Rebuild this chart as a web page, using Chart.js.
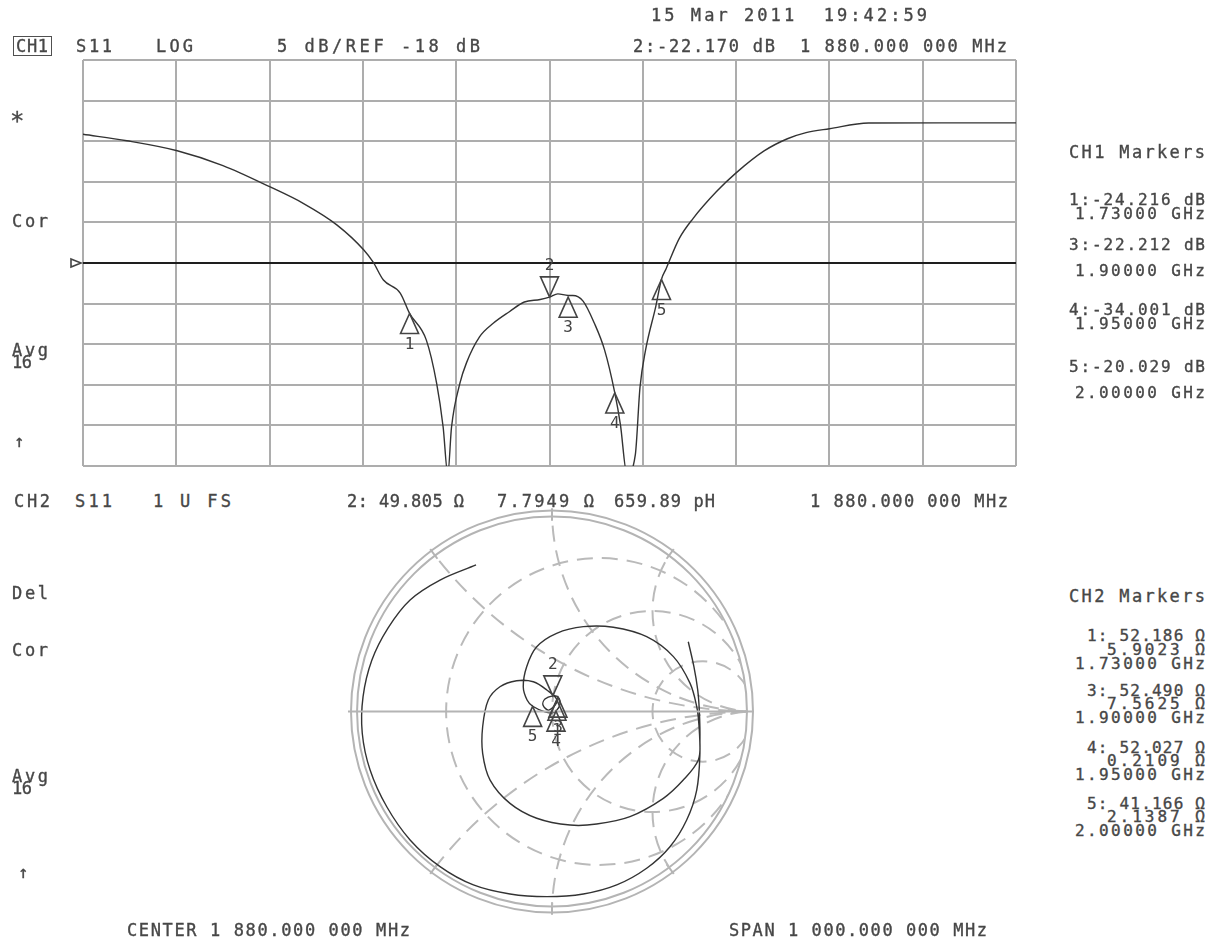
<!DOCTYPE html>
<html>
<head>
<meta charset="utf-8">
<script src="https://cdn.jsdelivr.net/npm/chart.js@4.4.1/dist/chart.umd.min.js"></script>
<style>
  html, body { margin: 0; padding: 0; background: #fff; }
  #page { position: relative; width: 1218px; height: 943px; overflow: hidden; background: #fff; }
  canvas { position: absolute; }
  .t { position: absolute; font-family: "DejaVu Sans Mono", monospace; font-size: 17px; line-height: 1;
       color: #474747; white-space: pre; transform: translateY(-50%); -webkit-text-stroke: 0.35px #474747; }
  .box { border: 1.5px solid #505050; padding: 1px 2px 0 2px; }
  .big { font-size: 24px; }
  .sm { font-size: 16px; }
</style>
</head>
<body>
<div id="page">
  <canvas id="magChart" width="1218" height="480" style="left:0;top:0"></canvas>
  <canvas id="smithChart" width="500" height="440" style="left:300px;top:490px"></canvas>
</div>
<script>
// CH1: S11 log magnitude
const freqMHz = [1380, 1427, 1481, 1530, 1580, 1616, 1652, 1681, 1691, 1702, 1720, 1730, 1748, 1759, 1766,
                 1771, 1775, 1784, 1791, 1805, 1820, 1837, 1853, 1870, 1880, 1889, 1900, 1905, 1916, 1928,
                 1939, 1950, 1956, 1963, 1972, 1977, 1983, 1994, 2000, 2005, 2019, 2034, 2059, 2080, 2110,
                 2135, 2155, 2180, 2222, 2300, 2380];
const s11dB = [-2.15, -2.94, -4.17, -6.0, -8.6, -10.65, -13.3, -16.4, -17.9, -20.1, -21.7, -24.2, -27.5, -32.8, -38.2,
               -44, -38.2, -32.8, -30.3, -27.1, -25.4, -24.0, -22.8, -22.5, -22.2, -21.8, -22.0, -22.0, -22.7, -25.4,
               -28.7, -34.0, -37.9, -44, -41.6, -33.3, -28.7, -23.3, -20.0, -18.7, -15.0, -12.5, -9.2, -6.9, -4.2,
               -2.7, -1.95, -1.46, -0.76, -0.74, -0.74];
const refDB = -18;

// CH2: S11 on the Smith chart (reflection coefficient, real / imaginary)
const smithRe = [-0.378, -0.557, -0.706, -0.816, -0.896, -0.940, -0.944, -0.905, -0.822, -0.706, -0.557, -0.391,
                 -0.209, -0.026, 0.156, 0.322, 0.471, 0.587, 0.670, 0.720, 0.736, 0.731, 0.720,
                 0.687, 0.604, 0.471, 0.305, 0.156, 0.023, -0.076, -0.126, -0.143, -0.124, -0.096, -0.035,
                 0.000, 0.020, 0.040, 0.030, 0.004, -0.035, -0.045, -0.015, 0.025,
                 -0.026, -0.093, -0.176, -0.259, -0.317, -0.345, -0.345, -0.308, -0.209, -0.076, 0.090,
                 0.222, 0.388, 0.554, 0.653, 0.728, 0.736, 0.733, 0.725, 0.706, 0.678];
const smithIm = [0.729, 0.654, 0.555, 0.415, 0.256, 0.074, -0.108, -0.291, -0.474, -0.639, -0.772, -0.863,
                 -0.908, -0.921, -0.908, -0.863, -0.780, -0.673, -0.540, -0.391, -0.208, -0.067, 0.024,
                 0.140, 0.273, 0.372, 0.419, 0.422, 0.389, 0.322, 0.223, 0.123, 0.057, 0.026, -0.002,
                 -0.007, 0.002, 0.037, 0.072, 0.078, 0.062, 0.032, 0.007, 0.056,
                 0.107, 0.148, 0.153, 0.123, 0.057, -0.076, -0.208, -0.341, -0.457, -0.531, -0.565,
                 -0.560, -0.523, -0.432, -0.341, -0.241, -0.142, 0.002, 0.107, 0.223, 0.347];

// markers (marker 2 is the active one)
const markerNum = [1, 2, 3, 4, 5];
const markerMHz = [1730, 1880, 1900, 1950, 2000];
const markerDB = [-24.216, -22.170, -22.212, -34.001, -20.029];
const markerR = [52.186, 49.805, 52.490, 52.027, 41.166];
const markerX = [5.9023, 7.7949, 7.5625, 0.2109, 2.1387];
const activeMarker = 2;
const activeL = '659.89 pH';

// smith graticule values
const gridR = [0.31, 1, 3];
const gridX = [0.5, 1, 2];

const Z0 = 50;
const ink = '#333333';
const gridGrey = '#adadad';

function gammaOf(r, x) {
  const a = r / Z0 - 1, b = x / Z0, c = r / Z0 + 1;
  const den = c * c + b * b;
  return { x: (a * c + b * b) / den, y: (b * c - a * b) / den };
}

function drawTri(ctx, X, Y, label, down) {
  const h = 20, w = 9;
  const dir = down ? -1 : 1;
  ctx.beginPath();
  ctx.moveTo(X, Y);
  ctx.lineTo(X - w, Y + dir * h);
  ctx.lineTo(X + w, Y + dir * h);
  ctx.closePath();
  ctx.stroke();
  ctx.fillText(label, X, Y + dir * (h + 11));
}

const markerPlugin = {
  id: 'magMarkers',
  afterDatasetsDraw(chart) {
    const { ctx, scales: { x, y }, chartArea } = chart;
    ctx.save();
    ctx.strokeStyle = '#444';
    ctx.fillStyle = '#444';
    ctx.lineWidth = 1.6;
    ctx.font = '16px "DejaVu Sans Mono"';
    ctx.textAlign = 'center';
    ctx.textBaseline = 'middle';
    markerNum.forEach((n, i) => {
      drawTri(ctx, x.getPixelForValue(markerMHz[i]), y.getPixelForValue(markerDB[i]), String(n), n === activeMarker);
    });
    // reference position arrow on the left edge
    const ry = y.getPixelForValue(refDB);
    const lx = chartArea.left;
    ctx.beginPath();
    ctx.moveTo(lx - 12, ry - 4);
    ctx.lineTo(lx - 2, ry);
    ctx.lineTo(lx - 12, ry + 4);
    ctx.closePath();
    ctx.stroke();
    ctx.restore();
  }
};

new Chart(document.getElementById('magChart'), {
  type: 'line',
  data: {
    datasets: [
      {
        data: freqMHz.map((f, i) => ({ x: f, y: s11dB[i] })),
        borderColor: ink, borderWidth: 1.4, pointRadius: 0, cubicInterpolationMode: 'monotone'
      },
      {
        data: [{ x: freqMHz[0], y: refDB }, { x: freqMHz[freqMHz.length - 1], y: refDB }],
        borderColor: '#1e1e1e', borderWidth: 2, pointRadius: 0
      }
    ]
  },
  options: {
    responsive: false,
    animation: false,
    events: [],
    layout: { padding: { left: 83, top: 60, right: 202, bottom: 14 } },
    plugins: { legend: { display: false }, tooltip: { enabled: false } },
    scales: {
      x: {
        type: 'linear', min: 1380, max: 2380,
        ticks: { display: false, stepSize: 100 },
        grid: { color: gridGrey, lineWidth: 2, drawTicks: false },
        border: { display: false }
      },
      y: {
        min: -43, max: 7,
        ticks: { display: false, stepSize: 5 },
        grid: { color: gridGrey, lineWidth: 2, drawTicks: false },
        border: { display: false }
      }
    }
  },
  plugins: [markerPlugin]
});

const smithGrid = {
  id: 'smithGrid',
  beforeDatasetsDraw(chart) {
    const { ctx, scales: { x, y } } = chart;
    const cx = x.getPixelForValue(0), cy = y.getPixelForValue(0);
    const unit = x.getPixelForValue(1) - cx;
    ctx.save();
    ctx.strokeStyle = '#b4b4b4';
    ctx.lineWidth = 2;
    [1, 0.97].forEach(k => {
      ctx.beginPath();
      ctx.arc(cx, cy, k * unit, 0, Math.PI * 2);
      ctx.stroke();
    });
    // short ticks where the reactance arcs meet the rim
    const angles = [Math.PI / 2, -Math.PI / 2];
    gridX.forEach(v => {
      const a = Math.PI - 2 * Math.atan(v);
      angles.push(a, -a);
    });
    angles.forEach(a => {
      ctx.beginPath();
      ctx.moveTo(cx + Math.cos(a) * unit * 0.95, cy - Math.sin(a) * unit * 0.95);
      ctx.lineTo(cx + Math.cos(a) * unit * 1.01, cy - Math.sin(a) * unit * 1.01);
      ctx.stroke();
    });
    ctx.beginPath();
    ctx.arc(cx, cy, 0.97 * unit, 0, Math.PI * 2);
    ctx.clip();
    ctx.strokeStyle = '#bababa';
    ctx.setLineDash([16, 9]);
    gridR.forEach(r => {
      ctx.beginPath();
      ctx.arc(x.getPixelForValue(r / (1 + r)), cy, unit / (1 + r), 0, Math.PI * 2);
      ctx.stroke();
    });
    gridX.forEach(v => {
      [v, -v].forEach(s => {
        ctx.beginPath();
        ctx.arc(x.getPixelForValue(1), y.getPixelForValue(1 / s), unit / v, 0, Math.PI * 2);
        ctx.stroke();
      });
    });
    ctx.restore();
  },
  afterDatasetsDraw(chart) {
    const { ctx, scales: { x, y } } = chart;
    ctx.save();
    ctx.strokeStyle = '#444';
    ctx.fillStyle = '#444';
    ctx.lineWidth = 1.6;
    ctx.font = '16px "DejaVu Sans Mono"';
    ctx.textAlign = 'center';
    ctx.textBaseline = 'middle';
    markerNum.forEach((n, i) => {
      const g = gammaOf(markerR[i], markerX[i]);
      drawTri(ctx, x.getPixelForValue(g.x), y.getPixelForValue(g.y), String(n), n === activeMarker);
    });
    ctx.restore();
  }
};

new Chart(document.getElementById('smithChart'), {
  type: 'scatter',
  data: {
    datasets: [
      {
        data: [{ x: -1.015, y: 0 }, { x: 1, y: 0 }],
        showLine: true, borderColor: '#b4b4b4', borderWidth: 2, pointRadius: 0, clip: false
      },
      {
        data: smithRe.map((v, i) => ({ x: v, y: smithIm[i] })),
        showLine: true, borderColor: ink, borderWidth: 1.4, pointRadius: 0, tension: 0.35, clip: false
      }
    ]
  },
  options: {
    responsive: false,
    animation: false,
    events: [],
    layout: { padding: { left: 51, top: 20.5, right: 47, bottom: 17.5 } },
    plugins: { legend: { display: false }, tooltip: { enabled: false } },
    scales: {
      x: { type: 'linear', display: false, min: -1, max: 1 },
      y: { type: 'linear', display: false, min: -1, max: 1 }
    }
  },
  plugins: [smithGrid]
});

// ---- annotation text ----
const page = document.getElementById('page');
function addText(str, left, cy, width, cls) {
  const d = document.createElement('div');
  d.className = 't' + (cls ? ' ' + cls : '');
  d.textContent = str;
  d.style.left = left + 'px';
  d.style.top = cy + 'px';
  page.appendChild(d);
  const n = [...str].length;
  if (width && n > 1) {
    const nat = d.getBoundingClientRect().width;
    d.style.letterSpacing = ((width - nat) / (n - 1)) + 'px';
  }
  return d;
}

const ia = markerNum.indexOf(activeMarker);
const ghz = i => (markerMHz[i] / 1000).toFixed(5) + ' GHz';

addText('15 Mar 2011  19:42:59', 651, 15, 276);
addText('CH1', 13, 46, 38, 'box');
addText('S11', 76, 46, 36);
addText('LOG', 156, 46, 37);
addText('5 dB/REF -18 dB', 277, 46, 203);
addText(activeMarker + ':' + markerDB[ia].toFixed(3) + ' dB', 633, 46, 142);
addText('1 880.000 000 MHz', 800, 46, 207);

addText('*', 10, 121, 0, 'big');
addText('Cor', 12, 221, 36);
addText('Avg', 12, 350, 36);
addText('16', 12, 362, 20);
addText('\u2191', 14, 441, 0);

addText('CH1 Markers', 1069, 152, 136);
let yy = [200, 214, 245, 271, 310, 324, 367, 393];
let k = 0;
markerNum.forEach((n, i) => {
  if (n === activeMarker) return;
  addText(n + ':' + markerDB[i].toFixed(3) + ' dB', 1069, yy[k++], 136, 'sm');
  addText(ghz(i), 1075, yy[k++], 130, 'sm');
});

addText('CH2', 14, 501, 36);
addText('S11', 75, 501, 37);
addText('1 U FS', 153, 501, 78);
addText(activeMarker + ': ' + markerR[ia].toFixed(3) + ' \u03a9', 347, 501, 117);
addText(markerX[ia].toFixed(4) + ' \u03a9', 497, 501, 97);
addText(activeL, 614, 501, 101);
addText('1 880.000 000 MHz', 810, 501, 198);

addText('Del', 12, 593, 36);
addText('Cor', 12, 650, 36);
addText('Avg', 12, 776, 36);
addText('16', 12, 788, 20);
addText('\u2191', 18, 872, 0);

addText('CH2 Markers', 1069, 596, 136);
yy = [636, 650, 664, 691, 704, 718, 748, 761, 775, 804, 817, 831];
k = 0;
markerNum.forEach((n, i) => {
  if (n === activeMarker) return;
  addText(n + ': ' + markerR[i].toFixed(3) + ' \u03a9', 1087, yy[k++], 118, 'sm');
  addText(markerX[i].toFixed(4) + ' \u03a9', 1107, yy[k++], 98, 'sm');
  addText(ghz(i), 1075, yy[k++], 130, 'sm');
});

addText('CENTER 1 880.000 000 MHz', 127, 930, 283);
addText('SPAN 1 000.000 000 MHz', 729, 930, 258);
</script>
</body>
</html>
